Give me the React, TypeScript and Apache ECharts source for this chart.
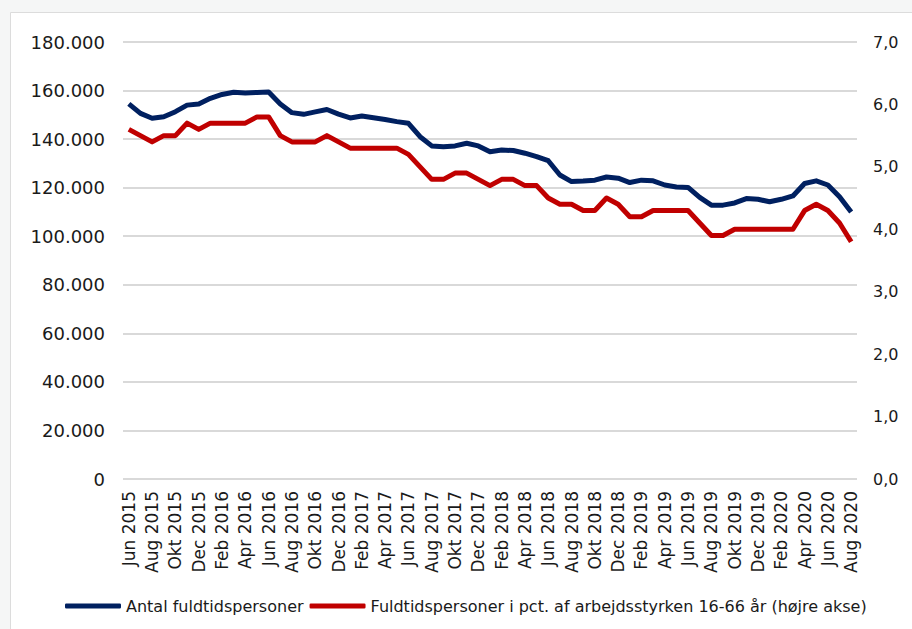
import React, { useEffect, useRef } from "react";
import * as echarts from "echarts";

const monthNames = ["Jan", "Feb", "Mar", "Apr", "Maj", "Jun", "Jul", "Aug", "Sep", "Okt", "Nov", "Dec"];
const startYear = 2015;
const startMonthIndex = 5; // Jun
const monthCount = 63; // Jun 2015 .. Aug 2020

const categories: string[] = [];
for (let i = 0; i < monthCount; i++) {
  const m = (startMonthIndex + i) % 12;
  const y = startYear + Math.floor((startMonthIndex + i) / 12);
  categories.push(`${monthNames[m]} ${y}`);
}

const seriesNames = [
  "Antal fuldtidspersoner",
  "Fuldtidspersoner i pct. af arbejdsstyrken 16-66 år (højre akse)",
];

const antalFuldtid = [
  154500, 150600, 148600, 149200, 151300, 154000, 154500, 156800, 158400, 159300,
  159000, 159200, 159400, 154500, 150900, 150200, 151200, 152200, 150300, 148700,
  149500, 148800, 148100, 147200, 146500, 141000, 137200, 136900, 137200, 138300,
  137200, 134800, 135500, 135300, 134200, 132800, 131100, 125200, 122500, 122700,
  123100, 124400, 123900, 122100, 123100, 122800, 121100, 120300, 120100, 116000,
  112800, 112800, 113700, 115500, 115200, 114200, 115200, 116600, 121700, 122800,
  121100, 116300, 110000,
];

const pctArbejdsstyrke = [
  5.6, 5.5, 5.4, 5.5, 5.5, 5.7, 5.6, 5.7, 5.7, 5.7,
  5.7, 5.8, 5.8, 5.5, 5.4, 5.4, 5.4, 5.5, 5.4, 5.3,
  5.3, 5.3, 5.3, 5.3, 5.2, 5.0, 4.8, 4.8, 4.9, 4.9,
  4.8, 4.7, 4.8, 4.8, 4.7, 4.7, 4.5, 4.4, 4.4, 4.3,
  4.3, 4.5, 4.4, 4.2, 4.2, 4.3, 4.3, 4.3, 4.3, 4.1,
  3.9, 3.9, 4.0, 4.0, 4.0, 4.0, 4.0, 4.0, 4.3, 4.4,
  4.3, 4.1, 3.8,
];

const FONT = "DejaVu Sans, Verdana, sans-serif";

function fmtThousands(v: number): string {
  return String(Math.round(v)).replace(/\B(?=(\d{3})+(?!\d))/g, ".");
}

export default function App() {
  const ref = useRef<HTMLDivElement>(null);
  useEffect(() => {
    if (!ref.current) return;
    const chart = echarts.init(ref.current, undefined, { renderer: "svg" });
    chart.setOption({
      animation: false,
      backgroundColor: "#f5f6f6",
      graphic: [
        {
          type: "rect",
          shape: { x: 10.5, y: 12.5, width: 920, height: 640 },
          style: { fill: "#ffffff", stroke: "#dcdcdc", lineWidth: 1 },
          z: -10,
          silent: true,
        },
      ],
      grid: { left: 123, right: 55, top: 42, bottom: 150, containLabel: false },
      legend: {
        left: 60,
        top: 593,
        itemWidth: 56,
        itemHeight: 5,
        itemGap: 6,
        icon: "roundRect",
        textStyle: { fontFamily: FONT, fontSize: 16, color: "#1a1a1a" },
        data: seriesNames,
      },
      xAxis: {
        type: "category",
        data: categories,
        boundaryGap: true,
        axisLine: { show: false },
        axisTick: { show: false },
        axisLabel: {
          interval: 1,
          rotate: 90,
          margin: 12,
          fontFamily: FONT,
          fontSize: 17,
          color: "#1a1a1a",
        },
      },
      yAxis: [
        {
          type: "value",
          min: 0,
          max: 180000,
          interval: 20000,
          axisLine: { show: false },
          axisTick: { show: false },
          splitLine: { lineStyle: { color: "#d9d9d9", width: 2 } },
          axisLabel: {
            margin: 18,
            fontFamily: FONT,
            fontSize: 18,
            color: "#1a1a1a",
            formatter: (v: number) => fmtThousands(v),
          },
        },
        {
          type: "value",
          min: 0,
          max: 7,
          interval: 1,
          axisLine: { show: false },
          axisTick: { show: false },
          splitLine: { show: false },
          axisLabel: {
            margin: 16,
            fontFamily: FONT,
            fontSize: 16,
            color: "#1a1a1a",
            formatter: (v: number) => v.toFixed(1).replace(".", ","),
          },
        },
      ],
      series: [
        {
          name: seriesNames[0],
          type: "line",
          data: antalFuldtid,
          yAxisIndex: 0,
          showSymbol: false,
          symbol: "none",
          lineStyle: { color: "#002060", width: 5, join: "round" },
          itemStyle: { color: "#002060" },
        },
        {
          name: seriesNames[1],
          type: "line",
          data: pctArbejdsstyrke,
          yAxisIndex: 1,
          showSymbol: false,
          symbol: "none",
          lineStyle: { color: "#c00000", width: 5, join: "round" },
          itemStyle: { color: "#c00000" },
        },
      ],
    });
    return () => chart.dispose();
  }, []);
  return (
    <div
      ref={ref}
      style={{ position: "fixed", left: 0, top: 0, width: 912, height: 629 }}
    />
  );
}
